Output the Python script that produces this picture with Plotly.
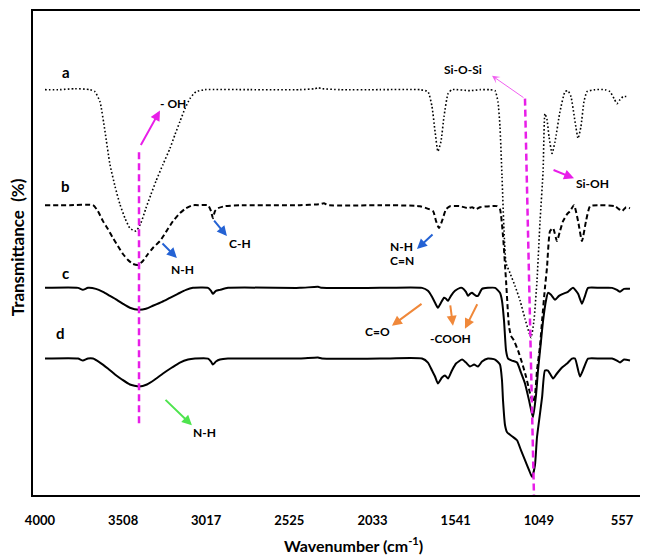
import plotly.graph_objects as go

# ---------------- data (wavenumber cm-1, transmittance a.u.) ----------------
tick_wn = [4000, 3508, 3017, 2525, 2033, 1541, 1049, 557]

wn_a = [3970, 3882, 3793, 3704, 3675, 3645, 3615, 3586, 3556, 3527, 3497, 3468, 3432, 3403,
        3373, 3343, 3314, 3272, 3231, 3201, 3172, 3142, 3113, 3077, 3024, 2758, 2462, 2373,
        2355, 2332, 2225, 1989, 1752, 1705, 1681, 1663, 1646, 1628, 1610, 1586, 1563, 1456,
        1397, 1338, 1308, 1291, 1279, 1267, 1255, 1243, 1220, 1190, 1160, 1131, 1107, 1095,
        1078, 1060, 1042, 1024, 1013, 1001, 989, 971, 953, 924, 894, 877, 859, 835, 817, 800,
        782, 764, 717, 658, 628, 604, 587, 569, 551, 522]
t_a = [407, 407, 408, 407, 405, 395, 365, 332, 310, 292, 278, 268, 265, 273,
       288, 302, 315, 332, 348, 362, 375, 388, 398, 405, 407, 407, 407, 408,
       409, 408, 407, 407, 407, 405, 390, 365, 345, 355, 380, 403, 407, 406,
       407, 407, 406, 395, 370, 320, 265, 233, 223, 210, 195, 177, 163, 158,
       175, 215, 275, 325, 383, 377, 360, 343, 355, 385, 405, 406, 400, 375, 358, 370,
       395, 405, 407, 407, 405, 398, 393, 397, 400, 400]

wn_b = [3970, 3823, 3686, 3657, 3627, 3598, 3568, 3539, 3509, 3479, 3450, 3420, 3391, 3361,
        3332, 3290, 3255, 3213, 3172, 3136, 3095, 3053, 3006, 2988, 2977, 2965, 2947, 2906,
        2817, 2462, 2344, 2320, 2296, 1989, 1752, 1675, 1657, 1640, 1622, 1598, 1574, 1515,
        1468, 1444, 1421, 1397, 1338, 1297, 1279, 1261, 1243, 1226, 1214, 1196, 1172, 1149,
        1125, 1101, 1084, 1072, 1060, 1042, 1030, 1013, 1001, 983, 965, 942, 924, 906, 882,
        865, 841, 817, 794, 770, 746, 687, 599, 575, 557, 533, 510]
t_b = [291, 291, 291, 285, 275, 267, 258, 250, 242, 236, 232, 231, 235, 242,
       248, 255, 264, 275, 283, 288, 291, 291, 291, 285, 278, 285, 288, 290,
       291, 291, 292, 293, 291, 291, 290, 285, 275, 268, 275, 287, 290, 290,
       288, 289, 287, 289, 290, 290, 287, 260, 215, 170, 160, 155, 145, 133,
       119, 102, 93, 100, 125, 150, 175, 208, 228, 265, 268, 255, 265, 275, 282,
       285, 291, 275, 255, 275, 290, 291, 290, 287, 285, 289, 288]

wn_c = [3970, 3775, 3746, 3716, 3669, 3627, 3586, 3545, 3509, 3468, 3414, 3373, 3332, 3278,
        3231, 3184, 3136, 3095, 3006, 2988, 2977, 2959, 2935, 2888, 2462, 2355, 2332, 1989,
        1740, 1705, 1681, 1663, 1646, 1628, 1610, 1598, 1586, 1569, 1545, 1515, 1503, 1480,
        1468, 1456, 1444, 1421, 1409, 1385, 1350, 1308, 1279, 1267, 1255, 1243, 1231, 1208,
        1178, 1155, 1131, 1107, 1084, 1066, 1054, 1036, 1024, 1007, 995, 977, 953, 930, 906,
        877, 847, 817, 794, 776, 758, 687, 616, 587, 569, 545, 510]
t_c = [208, 208, 206, 208, 207, 204, 200, 196, 192, 188, 186, 187, 190, 194,
       198, 202, 206, 208, 208, 205, 202, 205, 206, 208, 208, 209, 208, 208,
       208, 205, 199, 193, 188, 193, 198, 197, 195, 200, 205, 208, 208, 204,
       200, 202, 203, 200, 200, 207, 208, 208, 203, 195, 175, 145, 137, 135,
       133, 123, 112, 95, 78, 100, 125, 155, 175, 195, 203, 201, 196, 200, 202,
       204, 208, 202, 192, 200, 208, 208, 208, 206, 204, 207, 207]

wn_d = [3970, 3775, 3746, 3716, 3686, 3645, 3598, 3556, 3515, 3468, 3414, 3367, 3320, 3272,
        3219, 3172, 3124, 3083, 3006, 2988, 2977, 2959, 2935, 2888, 2462, 2355, 2332, 1989,
        1740, 1705, 1681, 1663, 1646, 1622, 1604, 1586, 1563, 1539, 1503, 1480, 1456, 1432,
        1409, 1385, 1350, 1308, 1279, 1267, 1261, 1249, 1237, 1208, 1178, 1155, 1131, 1107,
        1089, 1072, 1060, 1030, 1013, 995, 965, 942, 912, 882, 853, 835, 806, 782, 758, 687,
        616, 587, 569, 545, 510]
t_d = [137, 137, 135, 137, 137, 133, 127, 121, 116, 111, 109, 111, 116, 122,
       128, 133, 136, 137, 137, 134, 131, 134, 136, 137, 137, 138, 137, 137,
       137, 133, 125, 119, 112, 118, 120, 117, 125, 132, 136, 133, 129, 131,
       129, 134, 137, 136, 131, 115, 95, 70, 63, 59, 55, 45, 35, 25,
       18, 30, 58, 98, 125, 125, 117, 122, 128, 132, 137, 137, 119, 128, 137, 137,
       137, 135, 133, 136, 135]

# guide lines marking the -OH and Si-O-Si band positions
oh_line_wn = [3414, 3414]
oh_line_t = [72, 347]
sio_line_wn = [1131, 1078]
sio_line_t = [398, 0]

series = [
    ("a", wn_a, t_a, "1.6px,2.2px", 1.6),
    ("b", wn_b, t_b, "5px,3px", 2.0),
    ("c", wn_c, t_c, "solid", 2.0),
    ("d", wn_d, t_d, "solid", 2.0),
]

FONT = "Lato"
MAG = "#e81ee8"

fig = go.Figure()
for name, wn, t, dash, w in series:
    fig.add_trace(go.Scatter(x=wn, y=t, mode="lines", name=name,
                             line=dict(color="black", width=w, dash=dash,
                                       shape="spline", smoothing=0.5),
                             showlegend=False, hoverinfo="skip"))

for lx, ly in [(oh_line_wn, oh_line_t), (sio_line_wn, sio_line_t)]:
    fig.add_trace(go.Scatter(x=lx, y=ly, mode="lines",
                             line=dict(color=MAG, width=2.5, dash="7px,4px"),
                             showlegend=False, hoverinfo="skip"))

ann = []


def text(x, y, s, size=12):
    ann.append(dict(x=x, y=y, xref="x", yref="y", text=s, showarrow=False,
                    font=dict(family=FONT, size=size, color="black", weight="bold")))


def arrow(x0, y0, x1, y1, color, width=2, head=2, hs=1.0):
    ann.append(dict(x=x1, y=y1, ax=x0, ay=y0, xref="x", yref="y", axref="x", ayref="y",
                    text="", showarrow=True, arrowhead=head, arrowsize=hs,
                    arrowwidth=width, arrowcolor=color, standoff=0, startstandoff=0))


# curve labels
text(3846, 425, "a", 15)
text(3846, 310, "b", 15)
text(3846, 223, "c", 15)
text(3876, 163, "d", 15)

# band labels
text(3213, 393, "- OH")
text(1498, 427, "Si-O-Si")
text(729, 313, "Si-OH")
text(3154, 226, "N-H")
text(2817, 253, "C-H")
text(1859, 250, "N-H")
text(1859, 235, "C=N")
text(2006, 164, "C=O")
text(1574, 157, "-COOH")
text(3024, 63, "N-H")

BLUE = "#2462d4"
ORANGE = "#f0883a"
GREEN = "#4ee44e"
arrow(3408, 350, 3290, 386, MAG)
arrow(1131, 398, 1326, 421, "#f060f0", width=1, head=3, hs=1.3)
arrow(971, 327, 841, 318, MAG)
arrow(3284, 254, 3190, 238, BLUE)
arrow(2977, 277, 2894, 260, BLUE)
arrow(1669, 263, 1770, 247, BLUE)
arrow(1734, 193, 1918, 170, ORANGE)
arrow(1574, 192, 1557, 170, ORANGE)
arrow(1409, 193, 1486, 167, ORANGE)
arrow(3266, 97, 3101, 70, GREEN)

# axis titles
ann.append(dict(x=0.525, y=0, xref="paper", yref="paper", yshift=-49, yanchor="middle",
                xanchor="center",
                text="Wavenumber (cm<sup>-1</sup>)", showarrow=False,
                font=dict(family=FONT, size=16, color="black", weight="bold")))
ann.append(dict(x=-0.026, y=0.512, xref="paper", yref="paper", textangle=-90,
                xanchor="center", yanchor="middle",
                text="Transmittance  (%)", showarrow=False,
                font=dict(family=FONT, size=17, color="black", weight="bold")))

# the page adds an 8px body margin, so the figure is 640x547 to fill 648x555
fig.update_layout(
    width=640, height=547,
    margin=dict(l=25, r=5, t=1, b=60),
    paper_bgcolor="white", plot_bgcolor="white",
    annotations=ann,
    xaxis=dict(range=[4041, 433], tickvals=tick_wn, ticktext=[str(v) for v in tick_wn],
               showgrid=False, zeroline=False, showline=True, mirror=True,
               linecolor="black", linewidth=2, ticks="outside", ticklen=12,
               tickcolor="rgba(0,0,0,0)",
               tickfont=dict(family=FONT, size=13, color="black", weight="bold")),
    yaxis=dict(range=[0, 486], showticklabels=False, showgrid=False, zeroline=False,
               showline=True, mirror=True, linecolor="black", linewidth=2, ticks=""),
)

fig.write_html("out.html")
